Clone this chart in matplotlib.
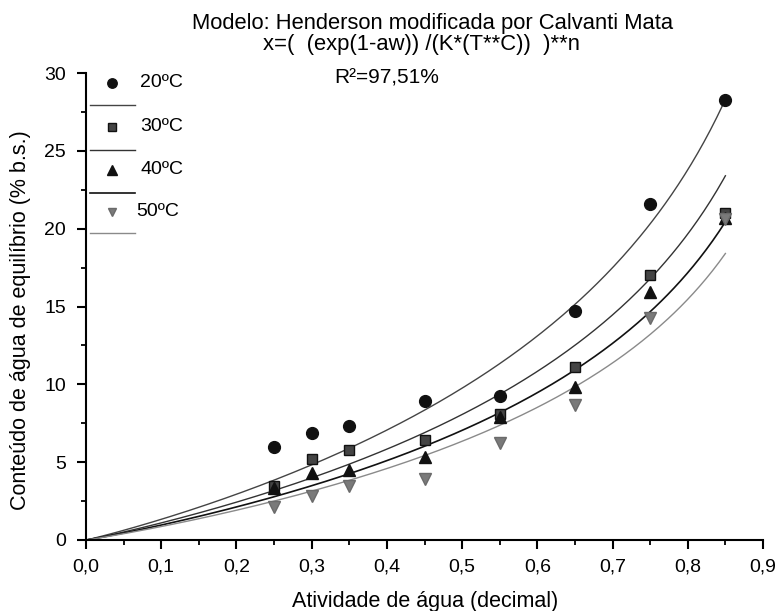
import numpy as np
import matplotlib
matplotlib.use("Agg")
import matplotlib.pyplot as plt
from matplotlib.ticker import MultipleLocator, FuncFormatter

plt.rcParams['font.family'] = ['Liberation Sans', 'DejaVu Sans']

# ---- data ----
aw = [0.25, 0.30, 0.35, 0.45, 0.55, 0.65, 0.75, 0.85]
x20 = [6.0, 6.9, 7.3, 8.9, 9.25, 14.7, 21.6, 28.25]
x30 = [3.5, 5.2, 5.8, 6.4, 8.1, 11.1, 17.0, 21.0]
x40 = [3.35, 4.3, 4.5, 5.3, 7.9, 9.8, 15.9, 20.7]
x50 = [2.15, 2.8, 3.45, 3.9, 6.25, 8.7, 14.25, 20.6]
temps = [20, 30, 40, 50]
labels = ["20ºC", "30ºC", "40ºC", "50ºC"]
# fitted model parameters (Henderson modified by Cavalcanti Mata)
K = 0.0213
C = 0.444
n = 0.945
aw_fit_max = 0.85

series = [x20, x30, x40, x50]
markers = ['o', 's', '^', 'v']
mfc = ['#111111', '#444444', '#111111', '#7a7a7a']
mec = ['#111111', '#111111', '#111111', '#6a6a6a']
msz = [8.5, 7.0, 8.5, 8.0]
lcol = ['#444444', '#333333', '#111111', '#8a8a8a']
lw = [1.0, 1.0, 1.2, 1.0]

W, H = 778, 611
fig = plt.figure(figsize=(W/100, H/100), dpi=100)
ax = fig.add_axes([86/W, 1-540/H, (763-86)/W, (540-73)/H])

awf = np.linspace(0, aw_fit_max, 300)
for T, ys, m, fc, ec, s, lc, w in zip(temps, series, markers, mfc, mec, msz, lcol, lw):
    xf = (-np.log(1 - awf) / (K * T**C))**(1/n)
    ax.plot(awf, xf, color=lc, lw=w, zorder=2)
    ax.plot(aw, ys, linestyle='none', marker=m, markersize=s,
            markerfacecolor=fc, markeredgecolor=ec, zorder=3)

ax.set_xlim(0, 0.9)
ax.set_ylim(0, 30)
ax.spines['top'].set_visible(False)
ax.spines['right'].set_visible(False)
for sp in ['left', 'bottom']:
    ax.spines[sp].set_linewidth(1.5)
ax.xaxis.set_major_locator(MultipleLocator(0.1))
ax.xaxis.set_minor_locator(MultipleLocator(0.05))
ax.yaxis.set_major_locator(MultipleLocator(5))
ax.yaxis.set_minor_locator(MultipleLocator(2.5))
ax.xaxis.set_major_formatter(FuncFormatter(lambda v, p: f"{v:.1f}".replace('.', ',')))
ax.yaxis.set_major_formatter(FuncFormatter(lambda v, p: f"{v:.0f}"))
ax.tick_params(which='major', direction='out', length=6.5, width=1.5, labelsize=14)
ax.tick_params(axis='x', which='major', pad=7)
ax.tick_params(axis='y', which='major', pad=8)
ax.tick_params(which='minor', direction='out', length=3.5, width=1.3)

fig.text(425/W, 1-607/H, "Atividade de água (decimal)", fontsize=15.5,
         ha='center', va='baseline')
fig.text(21/W, 1-320/H, "Conteúdo de água de equilíbrio (% b.s.)", fontsize=15.5,
         ha='center', va='center', rotation=90)

# legend (Origin style: marker row, then line row)
row_marker = [0.9786, 0.8844, 0.7923, 0.7024]
row_line = [0.9315, 0.8351, 0.7430, 0.6574]
label_x = [0.080, 0.080, 0.080, 0.074]
for i in range(4):
    ax.plot([0.0384], [row_marker[i]], transform=ax.transAxes, marker=markers[i],
            markersize=msz[i]*0.8, markerfacecolor=mfc[i], markeredgecolor=mec[i],
            linestyle='none', clip_on=False)
    ax.text(label_x[i], row_marker[i], labels[i], transform=ax.transAxes,
            fontsize=14, va='center', ha='left')
    ax.plot([0.006, 0.072], [row_line[i], row_line[i]], transform=ax.transAxes,
            color=lcol[i], lw=lw[i], clip_on=False)

fig.text(433/W, 1-29/H, "Modelo: Henderson modificada por Calvanti Mata",
         ha='center', va='baseline', fontsize=15.8)
fig.text(421/W, 1-50/H, "x=(  (exp(1-aw)) /(K*(T**C))  )**n",
         ha='center', va='baseline', fontsize=15.8)
fig.text(387/W, 1-83/H, "R²=97,51%", ha='center', va='baseline', fontsize=15)

fig.savefig("out.png", dpi=100)
